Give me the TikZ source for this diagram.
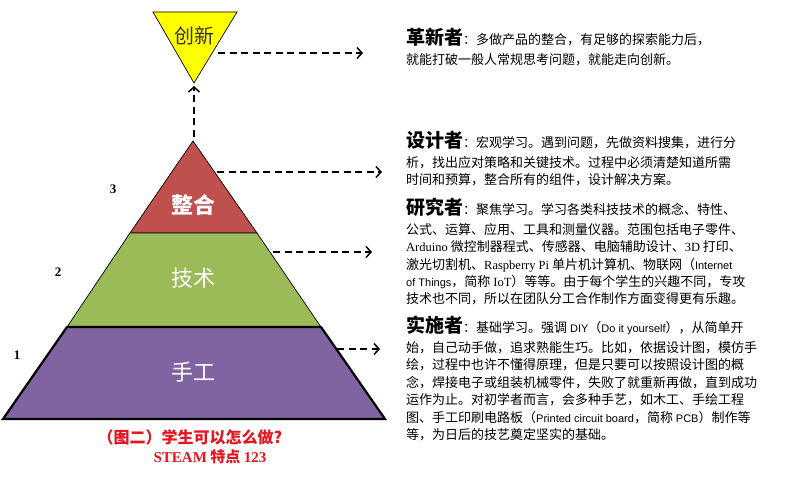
\documentclass[tikz,border=0pt]{standalone}
\usepackage{fontspec}
\setmainfont{Liberation Serif}
\newfontfamily\cjk{Noto Sans CJK SC}
\newfontfamily\lsans{Liberation Sans}
\newfontfamily\lserif{Liberation Serif}
\usetikzlibrary{arrows.meta}
\definecolor{pyyellow}{RGB}{255,255,0}
\definecolor{pyred}{RGB}{192,80,77}
\definecolor{pygreen}{RGB}{155,187,89}
\definecolor{pypurple}{RGB}{128,100,162}
\definecolor{capred}{RGB}{230,20,30}
\newcommand{\hd}[1]{{\cjk\bfseries\fontsize{19}{19}\selectfont #1}}
\newcommand{\ls}[1]{{\lsans\fontsize{11}{11}\selectfont #1}}
\newcommand{\lr}[1]{{\lserif\fontsize{12.5}{12.5}\selectfont #1}}
\begin{document}
\begin{tikzpicture}[x=1pt,y=-1pt,
  txtblock/.style={anchor=base west, align=left, inner sep=0pt,
    font=\cjk\fontsize{13}{17.4}\selectfont},
  dasharr/.style={line width=1.5pt, dash pattern=on 7pt off 4.5pt,
    -{Straight Barb[length=5pt,width=11pt,line width=1.5pt]}},
  pyrlabel/.style={text=white, font=\cjk\fontsize{22}{22}\selectfont, inner sep=0pt},
  numlabel/.style={font=\lserif\bfseries\fontsize{13}{13}\selectfont, inner sep=0pt},
  caption/.style={text=capred, inner sep=0pt, anchor=base}]
\useasboundingbox[fill=white] (0,0) rectangle (793,478);

% shapes
\draw[fill=pyyellow, line width=0.7pt, line join=miter] (153,12) -- (237,12) -- (194,83) -- cycle;
\draw[fill=pyred, line width=0.7pt] (193,141) -- (257,233) -- (130,233) -- cycle;
\draw[fill=pygreen, line width=0.7pt] (130,233) -- (257,233) -- (321,327) -- (67,327) -- cycle;
\draw[fill=pypurple, line width=2.2pt, line join=miter] (67,327) -- (321,327) -- (385,419) -- (3,419) -- cycle;

% labels in shapes
\node[font=\cjk\fontsize{20}{20}\selectfont, text={rgb,255:red,50;green,50;blue,50}, inner sep=0pt] (cx) at (194,36) {创新};
\node[pyrlabel, font=\cjk\bfseries\fontsize{22}{22}\selectfont] (zh) at (193,205) {整合};
\node[pyrlabel] (js) at (193,278) {技术};
\node[pyrlabel] (sg) at (193,372) {手工};

\node[numlabel] (n3) at (113,189) {3};
\node[numlabel] (n2) at (58,272) {2};
\node[numlabel] (n1) at (17,355) {1};

% connector points
\coordinate (ya) at (218,53);  \coordinate (yb) at (363,53);
\coordinate (va) at (194,137); \coordinate (vb) at (194,86);
\coordinate (ra) at (217,172); \coordinate (rb) at (382,172);
\coordinate (ga) at (273,252); \coordinate (gb) at (372,252);
\coordinate (pa) at (337,349); \coordinate (pb) at (380,349);
\draw[dasharr] (ya) -- (yb);
\draw[dasharr] (va) -- (vb);
\draw[dasharr] (ra) -- (rb);
\draw[dasharr] (ga) -- (gb);
\draw[dasharr] (pa) -- (pb);

% text blocks (base anchor = baseline of last line)
\node[txtblock] (t1) at (406,64.5) {\hd{革新者}：多做产品的整合，有足够的探索能力后，\\[2.5pt]
就能打破一般人常规思考问题，就能走向创新。};
\node[txtblock] (t2) at (406,185) {\hd{设计者}：宏观学习。遇到问题，先做资料搜集，进行分\\[2.5pt]
析，找出应对策略和关键技术。过程中必须清楚知道所需\\
时间和预算，整合所有的组件，设计解决方案。};
\node[txtblock] (t3) at (406,304) {\hd{研究者}：聚焦学习。学习各类科技技术的概念、特性、\\[2.5pt]
公式、运算、应用、工具和测量仪器。范围包括电子零件、\\
\lr{Arduino} 微控制器程式、传感器、电脑辅助设计、\lr{3D} 打印、\\
激光切割机、\lr{Raspberry Pi} 单片机计算机、物联网（\ls{Internet}\\
\ls{of Things}，简称 \lr{IoT}）等等。由于每个学生的兴趣不同，专攻\\
技术也不同，所以在团队分工合作制作方面变得更有乐趣。};
\node[txtblock] (t4) at (406,439.5) {\hd{实施者}：基础学习。强调 \ls{DIY}（\ls{Do it yourself}），从简单开\\[2.5pt]
始，自己动手做，追求熟能生巧。比如，依据设计图，模仿手\\
绘，过程中也许不懂得原理，但是只要可以按照设计图的概\\
念，焊接电子或组装机械零件，失败了就重新再做，直到成功\\
运作为止。对初学者而言，会多种手艺，如木工、手绘工程\\
图、手工印刷电路板（\ls{Printed circuit board}，简称 \ls{PCB}）制作等\\
等，为日后的技艺奠定坚实的基础。};

% caption
\node[caption, font=\cjk\bfseries\fontsize{16}{16}\selectfont] (cap1) at (190,443) {（图二）学生可以怎么做?};
\node[caption, font=\cjk\bfseries\fontsize{15}{15}\selectfont] (cap2) at (210,462) {{\lserif\bfseries STEAM} 特点 {\lserif\bfseries 123}};
\end{tikzpicture}
\end{document}
